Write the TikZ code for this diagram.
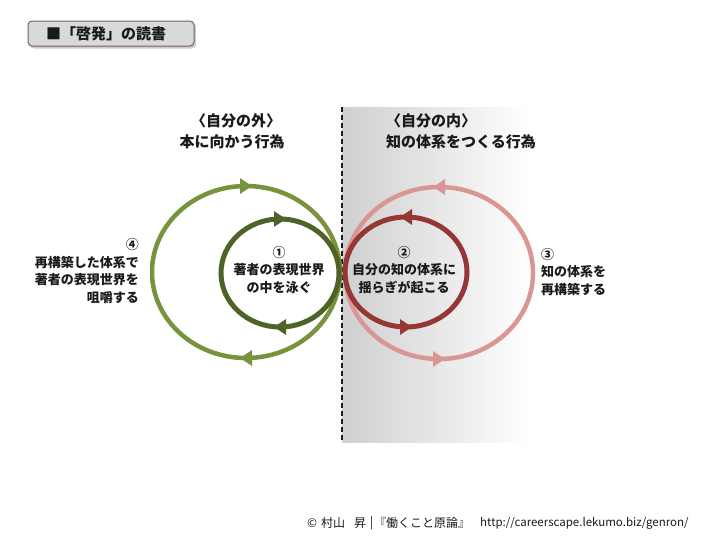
\documentclass[tikz,border=0pt]{standalone}
\usepackage{fontspec}
\newfontfamily\jp{Noto Sans CJK JP}
\usetikzlibrary{arrows.meta,decorations.markings,shadows}
\definecolor{ogreen}{HTML}{77933C}
\definecolor{igreen}{HTML}{4F6228}
\definecolor{ired}{HTML}{953735}
\definecolor{opink}{HTML}{D99694}
\definecolor{txt}{HTML}{1A1A1A}
\definecolor{boxfill}{HTML}{D9D9D9}
\definecolor{boxline}{HTML}{7F5F5F}
\definecolor{shadegray}{HTML}{CFCFCF}
\tikzset{
  cw/.style={line width=#1, postaction={decorate}, decoration={markings,
     mark=at position 0.25 with {\arrow[xshift=6pt]{Triangle[width=15pt,length=12pt]}},
     mark=at position 0.75 with {\arrow[xshift=6pt]{Triangle[width=15pt,length=12pt]}}}},
  ccw/.style={line width=#1, postaction={decorate}, decoration={markings,
     mark=at position 0.25 with {\arrowreversed[xshift=-6pt]{Triangle[width=15pt,length=12pt]}},
     mark=at position 0.75 with {\arrowreversed[xshift=-6pt]{Triangle[width=15pt,length=12pt]}}}},
  lbl/.style={text=txt, font=\jp\bfseries\fontsize{13pt}{17.5pt}\selectfont, inner sep=0pt},
  hdr/.style={text=txt, font=\jp\bfseries\fontsize{15pt}{21pt}\selectfont, inner sep=0pt},
  ftj/.style={text=txt, font=\jp\fontsize{12pt}{15pt}\selectfont, inner sep=0pt, anchor=west},
}
\begin{document}
\begin{tikzpicture}[x=1pt,y=-1pt]
\useasboundingbox (0,0) rectangle (720,554);
% title box
\fill[gray!40, rounded corners=4pt] (30,23) rectangle (196,48.5);
\node[draw=boxline, line width=1pt, fill=boxfill, rounded corners=4pt,
      minimum width=166pt, minimum height=25pt, inner sep=0pt] (title) at (111,33.5) {};
\node[text=txt, font=\jp\bfseries\fontsize{15pt}{18pt}\selectfont, inner sep=0pt] (titletext) at (106,34) {■「啓発」の読書};
% gradient region
\shade[left color=shadegray, right color=white] (342,107) rectangle (530,442);
\coordinate (dtop) at (342,107);
\coordinate (dbot) at (342,442);
\draw[line width=1.6pt, dash pattern=on 5pt off 3pt, txt] (dtop) -- (dbot);
% headers
\node[hdr] (h1) at (236,121) {〈自分の外〉};
\node[hdr] (h2) at (232,142) {本に向かう行為};
\node[hdr, anchor=west] (h3) at (386,121) {〈自分の内〉};
\node[hdr, anchor=west] (h4) at (386,142) {知の体系をつくる行為};
% loops
\draw[ccw=4.5pt, opink] (439,273) circle[x radius=94, y radius=86];
\draw[ccw=5pt, ired] (406,272) circle[x radius=61, y radius=55];
\draw[cw=4.5pt, ogreen] (246,272) circle[x radius=94, y radius=86];
\draw[cw=5pt, igreen] (280,273) circle[x radius=59, y radius=54];
% labels
\node[lbl, align=right, anchor=east] (l4) at (139,271) {④\\再構築した体系で\\著者の表現世界を\\咀嚼する};
\node[lbl, align=center] (l1) at (279,270) {①\\著者の表現世界\\の中を泳ぐ};
\node[lbl, align=center] (l2) at (404,270) {②\\自分の知の体系に\\揺らぎが起こる};
\node[lbl, align=left, anchor=west] (l3) at (541,272) {③\\知の体系を\\再構築する};
% footer
\node[ftj] (fc) at (307,523) {©};
\node[ftj] (fn1) at (321,523) {村山};
\node[ftj] (fn2) at (354,523) {昇};
\node[ftj] (fbar) at (370,523) {|};
\node[ftj] (fbook) at (374,523) {『働くこと原論』};
\node[text=txt, font=\jp\fontsize{11.5pt}{14pt}\selectfont, inner sep=0pt, anchor=west] (furl) at (480,523) {http://careerscape.lekumo.biz/genron/};
\end{tikzpicture}
\end{document}
